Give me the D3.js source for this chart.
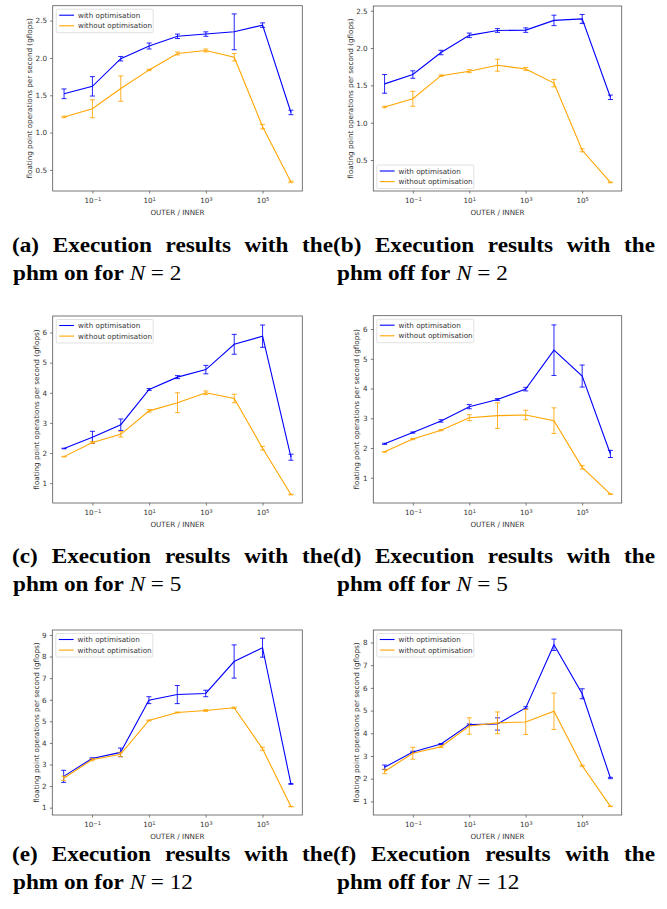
<!DOCTYPE html>
<html>
<head>
<meta charset="utf-8">
<script src="https://cdn.jsdelivr.net/npm/d3@7"></script>
<style>
  body { margin: 0; background: #fff; }
  svg { display: block; }
  .tick text { font-family: "DejaVu Sans", sans-serif; font-size: 7.2px; fill: #333; }
  .tick line { stroke: #444; stroke-width: 0.7; }
</style>
</head>
<body>
<script>
// x values: OUTER / INNER = 10^k
const xValues = [1e-2, 1e-1, 1e0, 1e1, 1e2, 1e3, 1e4, 1e5, 1e6];
const xTickExps = [-1, 1, 3, 5];
const seriesNames = ["with optimisation", "without optimisation"];
const seriesColors = ["blue", "orange"];

// (a) phm on, N = 2
const withA = [1.52, 1.62, 1.99, 2.16, 2.29, 2.32, 2.35, 2.44, 1.27];
const withAErr = [0.065, 0.13, 0.03, 0.04, 0.03, 0.03, 0.24, 0.03, 0.03];
const withoutA = [1.21, 1.32, 1.59, 1.84, 2.06, 2.10, 2.01, 1.08, 0.34];
const withoutAErr = [0.01, 0.12, 0.17, 0.01, 0.02, 0.02, 0.05, 0.03, 0.01];

// (b) phm off, N = 2
const withB = [1.52, 1.645, 1.94, 2.17, 2.235, 2.24, 2.37, 2.39, 1.34];
const withBErr = [0.125, 0.05, 0.03, 0.03, 0.025, 0.03, 0.07, 0.06, 0.03];
const withoutB = [1.21, 1.32, 1.63, 1.69, 1.77, 1.72, 1.53, 0.63, 0.20];
const withoutBErr = [0.01, 0.10, 0.01, 0.02, 0.08, 0.02, 0.05, 0.02, 0.005];

// (c) phm on, N = 5
const withC = [2.15, 2.52, 2.94, 4.11, 4.52, 4.77, 5.61, 5.88, 1.86];
const withCErr = [0.01, 0.2, 0.19, 0.03, 0.05, 0.14, 0.33, 0.37, 0.1];
const withoutC = [1.88, 2.35, 2.62, 3.40, 3.67, 4.00, 3.81, 2.16, 0.62];
const withoutCErr = [0.01, 0.03, 0.09, 0.04, 0.33, 0.06, 0.14, 0.06, 0.01];

// (d) phm off, N = 5
const withD = [2.14, 2.52, 2.91, 3.39, 3.63, 3.98, 5.29, 4.42, 1.80];
const withDErr = [0.02, 0.02, 0.04, 0.07, 0.03, 0.06, 0.85, 0.37, 0.12];
const withoutD = [1.87, 2.30, 2.60, 3.02, 3.09, 3.11, 2.92, 1.35, 0.45];
const withoutDErr = [0.01, 0.02, 0.02, 0.1, 0.43, 0.16, 0.43, 0.06, 0.01];

// (e) phm on, N = 12
const withE = [2.45, 3.28, 3.56, 5.98, 6.24, 6.29, 7.77, 8.41, 2.10];
const withEErr = [0.28, 0.03, 0.2, 0.16, 0.42, 0.15, 0.77, 0.44, 0.02];
const withoutE = [2.36, 3.22, 3.47, 5.04, 5.41, 5.50, 5.63, 3.73, 1.05];
const withoutEErr = [0.1, 0.05, 0.1, 0.02, 0.02, 0.04, 0.03, 0.07, 0.01];

// (f) phm off, N = 12
const withF = [2.50, 3.18, 3.53, 4.38, 4.41, 5.12, 7.90, 5.74, 2.03];
const withFErr = [0.1, 0.03, 0.02, 0.03, 0.27, 0.05, 0.25, 0.22, 0.03];
const withoutF = [2.32, 3.12, 3.41, 4.32, 4.46, 4.50, 4.97, 2.57, 0.78];
const withoutFErr = [0.1, 0.26, 0.04, 0.36, 0.48, 0.55, 0.8, 0.03, 0.01];

const yDomains = [[0.218, 2.70], [0.085, 2.563], [0.34, 6.55], [0.15, 6.45], [0.66, 9.23], [0.40, 8.55]];
const yTicks = [
  [0.5, 1.0, 1.5, 2.0, 2.5], [0.5, 1.0, 1.5, 2.0, 2.5],
  [1, 2, 3, 4, 5, 6], [1, 2, 3, 4, 5, 6],
  [1, 2, 3, 4, 5, 6, 7, 8, 9], [1, 2, 3, 4, 5, 6, 7, 8]
];
const captionLabels = ["(a)", "(b)", "(c)", "(d)", "(e)", "(f)"];
const captionPhm = ["on", "off", "on", "off", "on", "off"];
const captionN = ["2", "2", "5", "5", "12", "12"];

const panels = [
  { mean: [withA, withoutA], err: [withAErr, withoutAErr], fmt: d3.format(".1f") },
  { mean: [withB, withoutB], err: [withBErr, withoutBErr], fmt: d3.format(".1f") },
  { mean: [withC, withoutC], err: [withCErr, withoutCErr], fmt: d3.format("d") },
  { mean: [withD, withoutD], err: [withDErr, withoutDErr], fmt: d3.format("d") },
  { mean: [withE, withoutE], err: [withEErr, withoutEErr], fmt: d3.format("d") },
  { mean: [withF, withoutF], err: [withFErr, withoutFErr], fmt: d3.format("d") }
];

// Axes boxes [x0, x1, y0, y1], y-label x, legend position, caption lines.
const layout = [
  { box: [52.7, 302.3, 5.7, 191], ylab: 29, legend: "upper", cap: [12, 333, 13, 252] },
  { box: [373.3, 621.7, 6, 191], ylab: 350, legend: "lower", cap: [333, 655, 337, 252] },
  { box: [52.7, 302.3, 316, 503], ylab: 36, legend: "upper", cap: [12, 333, 13, 563] },
  { box: [373.3, 621.7, 315.7, 503], ylab: 356, legend: "upper", cap: [333, 655, 337, 563] },
  { box: [52.3, 302.3, 630, 815], ylab: 36, legend: "upper", cap: [12, 333, 13, 861] },
  { box: [373.3, 621.7, 630, 815], ylab: 356, legend: "upper", cap: [333, 655, 337, 861] }
];

const svg = d3.select("body").append("svg")
    .attr("width", 667)
    .attr("height", 909);

const font = "DejaVu Sans, sans-serif";
const serif = "Liberation Serif, Times New Roman, serif";
const capStretch = 1.08;   // Libertine runs wider than Times

panels.forEach((p, i) => {
    const L = layout[i];
    const [x0, x1, y0, y1] = L.box;
    const g = svg.append("g");

    const x = d3.scaleLog()
        .domain([Math.pow(10, -2.4), Math.pow(10, 6.4)])
        .range([x0, x1]);
    const y = d3.scaleLinear()
        .domain(yDomains[i])
        .range([y1, y0]);

    // x axis with 10^k labels
    const xa = g.append("g")
        .attr("transform", `translate(0,${y1})`)
        .call(d3.axisBottom(x)
            .tickValues(xTickExps.map(e => Math.pow(10, e)))
            .tickSize(2.5)
            .tickPadding(4.6)
            .tickFormat(""));
    xa.select(".domain").remove();
    xa.selectAll(".tick text").each(function (d) {
        const t = d3.select(this);
        const e = Math.round(Math.log10(d));
        t.text(null);
        t.append("tspan").text("10");
        t.append("tspan")
            .attr("dy", "-0.45em")
            .style("font-size", "5.2px")
            .text(e < 0 ? "\u2212" + (-e) : e);
    });

    // y axis
    const ya = g.append("g")
        .attr("transform", `translate(${x0},0)`)
        .call(d3.axisLeft(y)
            .tickValues(yTicks[i])
            .tickSize(2.5)
            .tickPadding(3.2)
            .tickFormat(p.fmt));
    ya.select(".domain").remove();

    g.append("rect")
        .attr("x", x0).attr("y", y0)
        .attr("width", x1 - x0).attr("height", y1 - y0)
        .attr("fill", "none")
        .attr("stroke", "#555")
        .attr("stroke-width", 0.8);

    g.append("text")
        .attr("x", (x0 + x1) / 2)
        .attr("y", y1 + 23.6)
        .attr("text-anchor", "middle")
        .style("font-family", font)
        .style("font-size", "7.2px")
        .attr("fill", "#333")
        .text("OUTER / INNER");

    g.append("text")
        .attr("transform", `translate(${L.ylab},${(y0 + y1) / 2}) rotate(-90)`)
        .attr("text-anchor", "middle")
        .attr("dy", "0.35em")
        .style("font-family", font)
        .style("font-size", "7.2px")
        .attr("fill", "#333")
        .text("floating point operations per second (gflops)");

    // series: line + error bars
    p.mean.forEach((vals, s) => {
        const color = seriesColors[s];
        const pts = xValues.map((xv, k) => ({ x: xv, v: vals[k], e: p.err[s][k] }));
        const line = d3.line().x(d => x(d.x)).y(d => y(d.v));
        g.append("path")
            .datum(pts)
            .attr("d", line)
            .attr("fill", "none")
            .attr("stroke", color)
            .attr("stroke-width", 1.1);

        const eb = g.append("g")
            .attr("stroke", color)
            .attr("stroke-width", 1)
            .attr("stroke-opacity", 0.85);
        pts.forEach(d => {
            const cx = x(d.x);
            eb.append("line")
                .attr("x1", cx).attr("x2", cx)
                .attr("y1", y(d.v - d.e)).attr("y2", y(d.v + d.e));
            [d.v - d.e, d.v + d.e].forEach(c => {
                eb.append("line")
                    .attr("x1", cx - 2.5).attr("x2", cx + 2.5)
                    .attr("y1", y(c)).attr("y2", y(c));
            });
        });
    });

    // legend
    const ly = L.legend === "upper" ? y0 + 3.5 : y1 - 26;
    const lg = g.append("g").attr("transform", `translate(${x0 + 3.5},${ly})`);
    lg.append("rect")
        .attr("width", 97).attr("height", 23.5).attr("rx", 1.5)
        .attr("fill", "white").attr("fill-opacity", 0.8)
        .attr("stroke", "#ccc").attr("stroke-width", 0.6);
    seriesNames.forEach((name, s) => {
        const ry = 6 + s * 10.6;
        lg.append("line")
            .attr("x1", 3).attr("x2", 17.8)
            .attr("y1", ry).attr("y2", ry)
            .attr("stroke", seriesColors[s]).attr("stroke-width", 1.1);
        lg.append("text")
            .attr("x", 21.8).attr("y", ry).attr("dy", "0.35em")
            .style("font-family", font).style("font-size", "7.2px")
            .attr("fill", "#333")
            .text(name);
    });

    // caption: justified first line, left-aligned second line
    const [cl, cr, c2, base] = L.cap;
    const words = [captionLabels[i], "Execution", "results", "with", "the"];
    const nodes = words.map(w => svg.append("text")
        .style("font-family", serif)
        .style("font-size", "21.5px")
        .style("font-weight", "bold")
        .text(w));
    const widths = nodes.map(n => n.node().getComputedTextLength() * capStretch);
    const gap = (cr - cl - d3.sum(widths)) / (words.length - 1);
    let cx = cl;
    nodes.forEach((n, k) => {
        n.attr("transform", `translate(${cx},${base}) scale(${capStretch},1)`);
        cx += widths[k] + gap;
    });

    const t2 = svg.append("text")
        .attr("transform", `translate(${c2},${base + 27.5}) scale(${capStretch},1)`)
        .style("font-family", serif)
        .style("font-size", "21.5px")
        .style("font-weight", "bold");
    t2.append("tspan").text(`phm ${captionPhm[i]} for`);
    t2.append("tspan").attr("dx", 5.5).style("font-style", "italic").style("font-weight", "normal").text("N");
    t2.append("tspan").attr("dx", 5).style("font-weight", "normal").text("=");
    t2.append("tspan").attr("dx", 5.5).style("font-weight", "normal").text(captionN[i]);
});
</script>
</body>
</html>
